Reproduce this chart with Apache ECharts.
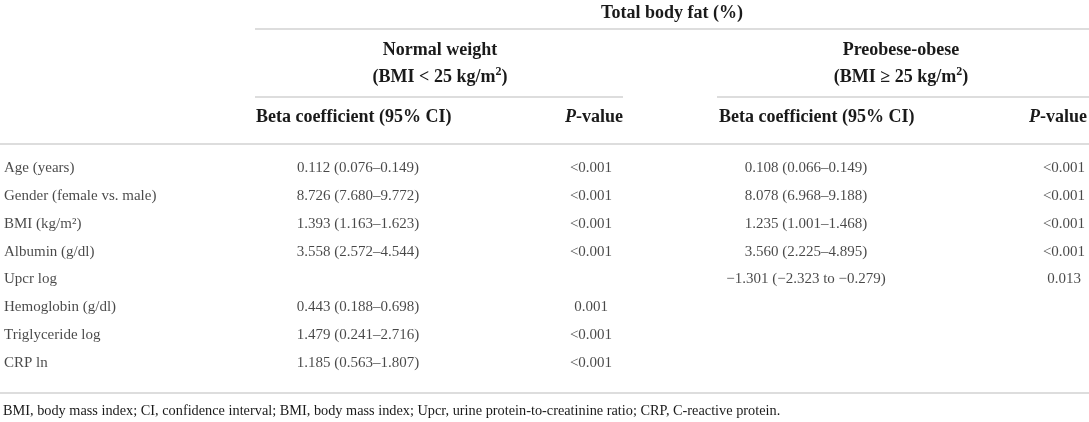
<!DOCTYPE html>
<html>
<head>
<meta charset="utf-8">
<style>html,body{margin:0;padding:0;background:#fff;}#c{width:1089px;height:422px;}</style>
<script src="https://cdn.jsdelivr.net/npm/echarts@6/dist/echarts.min.js"></script>
</head>
<body>
<div id="c"></div>
<script>
// ---- table content ----
var rowLabels = ['Age (years)', 'Gender (female vs. male)', 'BMI (kg/m²)', 'Albumin (g/dl)', 'Upcr log', 'Hemoglobin (g/dl)', 'Triglyceride log', 'CRP ln'];
var nwBeta = ['0.112 (0.076–0.149)', '8.726 (7.680–9.772)', '1.393 (1.163–1.623)', '3.558 (2.572–4.544)', '', '0.443 (0.188–0.698)', '1.479 (0.241–2.716)', '1.185 (0.563–1.807)'];
var nwP = ['<0.001', '<0.001', '<0.001', '<0.001', '', '0.001', '<0.001', '<0.001'];
var poBeta = ['0.108 (0.066–0.149)', '8.078 (6.968–9.188)', '1.235 (1.001–1.468)', '3.560 (2.225–4.895)', '−1.301 (−2.323 to −0.279)', '', '', ''];
var poP = ['<0.001', '<0.001', '<0.001', '<0.001', '0.013', '', '', ''];
var spanTitle = 'Total body fat (%)';
var groupTitles = [['Normal weight', '(BMI < 25 kg/m{sup|2})'], ['Preobese-obese', '(BMI ≥ 25 kg/m{sup|2})']];
var colHeaders = ['Beta coefficient (95% CI)', '{i|P}-value'];
var footnote = 'BMI, body mass index; CI, confidence interval; BMI, body mass index; Upcr, urine protein-to-creatinine ratio; CRP, C-reactive protein.';

// ---- layout / style ----
var FONT = '"Liberation Serif", "DejaVu Serif", serif';
var TXT = '#1a1a1a';
var RULE = '#d2d2d2';
var BODY_SIZE = 15;
var HEAD_SIZE = 18;
var columns = [
  {values: rowLabels, center: 4, align: 'left'},
  {values: nwBeta, center: 358, align: 'center'},
  {values: nwP, center: 591, align: 'center'},
  {values: poBeta, center: 806, align: 'center'},
  {values: poP, center: 1064, align: 'center'}
];
var bodyTop = 154, bodyHeight = 223;

var grids = [], xAxes = [], yAxes = [], series = [];
columns.forEach(function (col, ci) {
  grids.push({left: col.center - 1, width: 2, top: bodyTop, height: bodyHeight, containLabel: false});
  xAxes.push({type: 'category', gridIndex: ci, data: ['c'], show: false});
  yAxes.push({type: 'category', gridIndex: ci, data: rowLabels, inverse: true, show: false});
  series.push({
    type: 'scatter', xAxisIndex: ci, yAxisIndex: ci, symbolSize: 0, silent: true,
    data: col.values.map(function (v, i) { return {value: ['c', i], name: v}; }),
    label: {
      show: true, position: col.align === 'left' ? 'right' : 'inside', distance: 0,
      formatter: '{b}', color: TXT, fontFamily: FONT, fontSize: BODY_SIZE,
      align: col.align, verticalAlign: 'middle'
    }
  });
});

function hline(x1, x2, y) {
  return {type: 'line', shape: {x1: x1, y1: y, x2: x2, y2: y}, style: {stroke: RULE, lineWidth: 1.6}, silent: true};
}
function text(str, x, y, opts) {
  opts = opts || {};
  var size = opts.size || HEAD_SIZE;
  var weight = opts.bold === false ? 'normal' : 'bold';
  return {type: 'text', x: x, y: y, silent: true, style: {
    text: str, fill: TXT, fontFamily: FONT, fontSize: size, fontWeight: weight,
    lineHeight: size + 4,
    align: opts.align || 'center', verticalAlign: 'middle',
    rich: {
      i: {fontStyle: 'italic', fontWeight: weight, fontFamily: FONT, fontSize: size, fill: TXT, lineHeight: size + 4},
      sup: {fontWeight: weight, fontFamily: FONT, fontSize: Math.round(size * 0.68), fill: TXT, verticalAlign: 'top', lineHeight: size - 4}
    }
  }};
}

var graphics = [
  text(spanTitle, 672, 13),
  hline(255, 1089, 29),
  text(groupTitles[0][0], 440, 50),
  text(groupTitles[0][1], 440, 77),
  text(groupTitles[1][0], 901, 50),
  text(groupTitles[1][1], 901, 77),
  hline(255, 623, 97),
  hline(717, 1089, 97),
  text(colHeaders[0], 256, 117, {align: 'left'}),
  text(colHeaders[1], 623, 117, {align: 'right'}),
  text(colHeaders[0], 719, 117, {align: 'left'}),
  text(colHeaders[1], 1087, 117, {align: 'right'}),
  hline(0, 1089, 144),
  hline(0, 1089, 393),
  text(footnote, 3, 411, {align: 'left', bold: false, size: 14.3})
];

var chart = echarts.init(document.getElementById('c'), null, {renderer: 'canvas'});
chart.setOption({
  animation: false,
  backgroundColor: '#fff',
  grid: grids, xAxis: xAxes, yAxis: yAxes, series: series,
  graphic: graphics
});
</script>
</body>
</html>
